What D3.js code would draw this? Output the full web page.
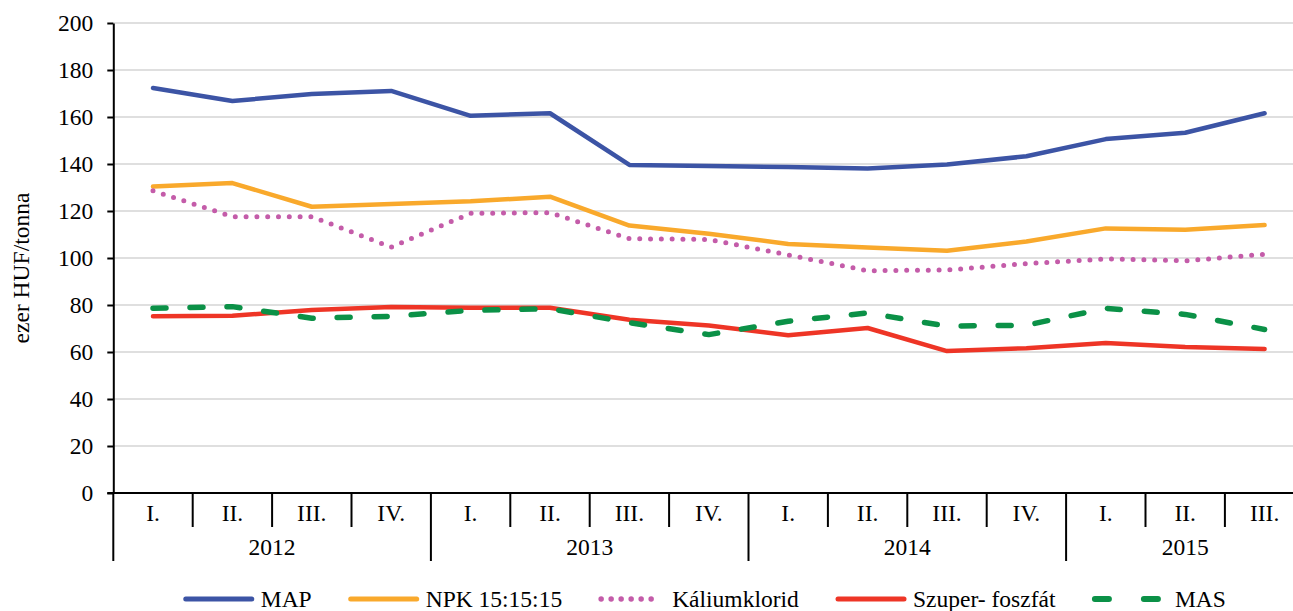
<!DOCTYPE html>
<html>
<head>
<meta charset="utf-8">
<script src="https://cdn.jsdelivr.net/npm/d3@7"></script>
<style>
  body { margin: 0; background: #fff; }
  svg { display: block; }
</style>
</head>
<body>
<div id="chart"></div>
<script>
// Quarters and the year each belongs to
const quarters = ['I.', 'II.', 'III.', 'IV.', 'I.', 'II.', 'III.', 'IV.', 'I.', 'II.', 'III.', 'IV.', 'I.', 'II.', 'III.'];
const quarterYears = ['2012', '2012', '2012', '2012', '2013', '2013', '2013', '2013', '2014', '2014', '2014', '2014', '2015', '2015', '2015'];
const years = ['2012', '2013', '2014', '2015'];

// ezer HUF/tonna
const mapValues = [172.3, 166.8, 169.8, 171.1, 160.5, 161.6, 139.6, 139.1, 138.7, 138.1, 139.8, 143.3, 150.6, 153.3, 161.6];
const npkValues = [130.4, 131.9, 121.8, 123.0, 124.1, 126.1, 113.8, 110.3, 106.0, 104.5, 103.1, 107.0, 112.6, 112.0, 114.0];
const kaliumValues = [128.6, 117.6, 117.6, 104.6, 119.0, 119.3, 108.2, 107.9, 101.3, 94.6, 94.9, 97.6, 99.6, 98.8, 101.6];
const szuperValues = [75.2, 75.4, 77.9, 79.1, 78.8, 78.8, 73.7, 71.3, 67.1, 70.2, 60.4, 61.6, 63.8, 62.1, 61.3];
const masValues = [78.6, 79.3, 74.4, 75.2, 77.7, 78.4, 72.5, 67.4, 73.1, 76.6, 71.0, 71.4, 78.6, 76.0, 69.6];

const yTicks = [0, 20, 40, 60, 80, 100, 120, 140, 160, 180, 200];
const seriesNames = ['MAP', 'NPK 15:15:15', 'Káliumklorid', 'Szuper- foszfát', 'MAS'];

const FONT = '"Liberation Serif", "Times New Roman", serif';
const FS = 23.5;

const series = [
    { name: seriesNames[0], values: mapValues, color: '#3c54a5', width: 4.5, dash: null, legendDash: null },
    { name: seriesNames[1], values: npkValues, color: '#f9a92c', width: 4.5, dash: null, legendDash: null },
    { name: seriesNames[2], values: kaliumValues, color: '#c45ca9', width: 5, dash: '0,10.8', legendDash: '0,10' },
    { name: seriesNames[3], values: szuperValues, color: '#ee3526', width: 4.5, dash: null, legendDash: null },
    { name: seriesNames[4], values: masValues, color: '#0b9147', width: 5.5, dash: '13,24', legendDash: '14,35' },
];

const width = 1293, height = 611;
const plotLeft = 113.3, step = 79.4, plotTop = 23, plotBottom = 493;

const svg = d3.select('#chart').append('svg')
    .attr('width', width)
    .attr('height', height)
    .attr('font-family', FONT)
    .attr('font-size', FS);

const x = d3.scaleBand()
    .domain(d3.range(quarters.length))
    .range([plotLeft, plotLeft + step * quarters.length])
    .padding(0);

const y = d3.scaleLinear()
    .domain([0, 200])
    .range([plotBottom, plotTop]);

// Gridlines
svg.append('g')
    .selectAll('line')
    .data(yTicks.filter(d => d > 0))
    .enter()
    .append('line')
    .attr('x1', x.range()[0])
    .attr('x2', x.range()[1])
    .attr('y1', d => y(d))
    .attr('y2', d => y(d))
    .attr('stroke', '#d4d4d4')
    .attr('stroke-width', 1.5);

// Y axis
const yAxis = svg.append('g')
    .attr('transform', `translate(${plotLeft},0)`)
    .call(d3.axisLeft(y).tickValues(yTicks).tickSize(6).tickSizeOuter(0).tickPadding(14))
    .attr('font-family', FONT)
    .attr('font-size', FS);
yAxis.select('.domain').attr('stroke', '#000').attr('stroke-width', 2);
yAxis.selectAll('.tick line').attr('stroke', '#000').attr('stroke-width', 2);
yAxis.selectAll('.tick text').attr('fill', '#000');

svg.append('text')
    .attr('transform', 'translate(29,268) rotate(-90)')
    .attr('text-anchor', 'middle')
    .attr('fill', '#000')
    .text('ezer HUF/tonna');

// X axis line and left tick
svg.append('line')
    .attr('x1', plotLeft - 6)
    .attr('x2', x.range()[1])
    .attr('y1', plotBottom)
    .attr('y2', plotBottom)
    .attr('stroke', '#000')
    .attr('stroke-width', 2);

// Category separators: long ones at year boundaries
const boundaries = d3.range(quarters.length + 1);
svg.append('g')
    .selectAll('line')
    .data(boundaries)
    .enter()
    .append('line')
    .attr('x1', i => plotLeft + i * x.step())
    .attr('x2', i => plotLeft + i * x.step())
    .attr('y1', plotBottom)
    .attr('y2', i => (i === 0 || i === quarters.length || quarterYears[i] !== quarterYears[i - 1]) ? 561 : 527)
    .attr('stroke', '#000')
    .attr('stroke-width', 2);

// Quarter labels
svg.append('g')
    .selectAll('text')
    .data(quarters)
    .enter()
    .append('text')
    .attr('x', (d, i) => x(i) + x.bandwidth() / 2)
    .attr('y', 521)
    .attr('text-anchor', 'middle')
    .attr('fill', '#000')
    .text(d => d);

// Year labels centred on their quarters
svg.append('g')
    .selectAll('text')
    .data(years)
    .enter()
    .append('text')
    .attr('x', yr => {
        const idx = quarterYears.map((q, i) => q === yr ? i : -1).filter(i => i >= 0);
        return (x(idx[0]) + x(idx[idx.length - 1]) + x.bandwidth()) / 2;
    })
    .attr('y', 555)
    .attr('text-anchor', 'middle')
    .attr('fill', '#000')
    .text(d => d);

// Lines
const line = d3.line()
    .x((d, i) => x(i) + x.bandwidth() / 2)
    .y(d => y(d));

svg.append('g')
    .selectAll('path')
    .data(series)
    .enter()
    .append('path')
    .attr('d', d => line(d.values))
    .attr('fill', 'none')
    .attr('stroke', d => d.color)
    .attr('stroke-width', d => d.width)
    .attr('stroke-linecap', 'round')
    .attr('stroke-linejoin', 'round')
    .attr('stroke-dasharray', d => d.dash);

// Legend
const legend = svg.append('g');
const items = legend.selectAll('g')
    .data(series)
    .enter()
    .append('g');

items.append('line')
    .attr('x1', 2)
    .attr('x2', d => d.legendDash === '0,10' ? 62 : 68)
    .attr('y1', 0)
    .attr('y2', 0)
    .attr('stroke', d => d.color)
    .attr('stroke-width', d => d.width + 0.5)
    .attr('stroke-linecap', 'round')
    .attr('stroke-dasharray', d => d.legendDash);

items.append('text')
    .attr('x', d => d.legendDash === '14,35' ? 82 : (d.legendDash === '0,10' ? 73 : 77))
    .attr('y', 8)
    .attr('fill', '#000')
    .text(d => d.name);

let offset = 0;
const legendGap = 39;
const positions = [];
items.each(function () {
    positions.push(offset);
    offset += this.getBBox().width + legendGap;
});
const legendWidth = offset - legendGap;
const legendStart = (plotLeft + x.range()[1]) / 2 - 5 - legendWidth / 2;
items.attr('transform', (d, i) => `translate(${legendStart + positions[i]},599)`);
</script>
</body>
</html>
